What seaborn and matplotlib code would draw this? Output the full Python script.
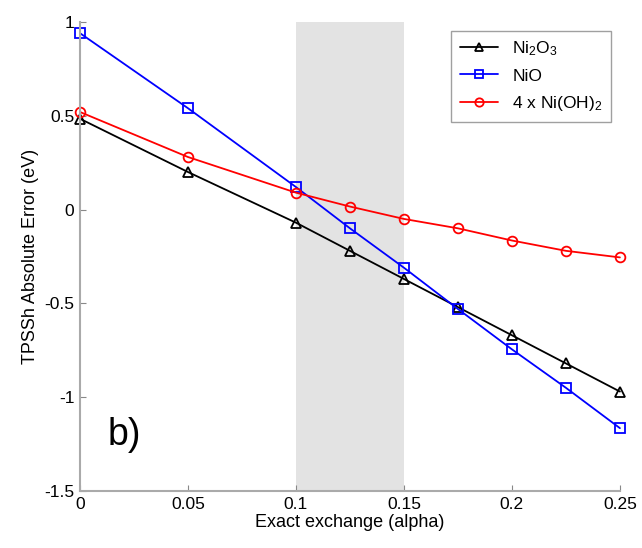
import matplotlib
matplotlib.use("Agg")
import matplotlib.pyplot as plt
import seaborn as sns
import pandas as pd

alpha = [0, 0.05, 0.1, 0.125, 0.15, 0.175, 0.2, 0.225, 0.25]
ni2o3 = [0.484, 0.20, -0.07, -0.22, -0.37, -0.52, -0.67, -0.82, -0.97]
nio = [0.94, 0.54, 0.12, -0.10, -0.31, -0.53, -0.745, -0.95, -1.165]
nioh2 = [0.52, 0.28, 0.09, 0.016, -0.05, -0.10, -0.165, -0.22, -0.255]
labels = ["Ni$_2$O$_3$", "NiO", "4 x Ni(OH)$_2$"]
colors = ["black", "blue", "red"]

rows = []
for lab, vals in zip(labels, [ni2o3, nio, nioh2]):
    for a, v in zip(alpha, vals):
        rows.append({"alpha": a, "err": v, "sys": lab})
df = pd.DataFrame(rows)

sns.set_style("white", {"xtick.bottom": True, "ytick.left": True})
plt.rcParams['font.family'] = ['Liberation Sans', 'DejaVu Sans']
plt.rcParams['text.color'] = 'black'
plt.rcParams['axes.labelcolor'] = 'black'
plt.rcParams['xtick.color'] = 'black'
plt.rcParams['ytick.color'] = 'black'
plt.rcParams['mathtext.fontset'] = 'custom'
plt.rcParams['mathtext.rm'] = 'Liberation Sans'
plt.rcParams['mathtext.it'] = 'Liberation Sans'

fig = plt.figure(figsize=(6.42, 5.48), dpi=100)
ax = fig.add_axes([0.1246, 0.104, 0.841, 0.856])

ax.axvspan(0.1, 0.15, color="#e3e3e3", lw=0, zorder=0)

sns.lineplot(data=df, x="alpha", y="err", hue="sys", style="sys",
             palette=colors, markers=["^", "s", "o"],
             dashes=False, ax=ax, lw=1.3, markersize=7,
             markerfacecolor="none", markeredgewidth=1.3)
for line, c in zip(ax.lines, colors):
    line.set_markeredgecolor(c)
    line.set_clip_on(False)

ax.set_xlim(0, 0.25)
ax.set_ylim(-1.5, 1)
ax.set_xticks([0, 0.05, 0.1, 0.15, 0.2, 0.25])
ax.set_xticklabels(["0", "0.05", "0.1", "0.15", "0.2", "0.25"])
ax.set_yticks([-1.5, -1, -0.5, 0, 0.5, 1])
ax.set_yticklabels(["-1.5", "-1", "-0.5", "0", "0.5", "1"])
ax.tick_params(direction="in", length=4, width=0.8, color="#888888",
               labelsize=12.5, pad=4)
for s in ["top", "right"]:
    ax.spines[s].set_visible(False)
for s in ["left", "bottom"]:
    ax.spines[s].set_color("#aaaaaa")
    ax.spines[s].set_linewidth(1.5)

ax.set_xlabel("Exact exchange (alpha)", fontsize=13, labelpad=2)
ax.set_ylabel("TPSSh Absolute Error (eV)", fontsize=13, labelpad=4)

ax.text(0.013, -1.2, "b)", fontsize=27, va="center", ha="left")

leg = ax.legend(loc="upper right", bbox_to_anchor=(1.0, 1.0), fontsize=12.5,
                frameon=True, fancybox=False, handlelength=2.2,
                borderpad=0.5, labelspacing=0.6)
leg.get_frame().set_edgecolor("#888888")
leg.get_frame().set_linewidth(1.0)
for h, c in zip(leg.legend_handles, colors):
    h.set_markerfacecolor("none")
    h.set_markeredgecolor(c)
    h.set_markersize(6)

fig.savefig("out.png", dpi=100)
